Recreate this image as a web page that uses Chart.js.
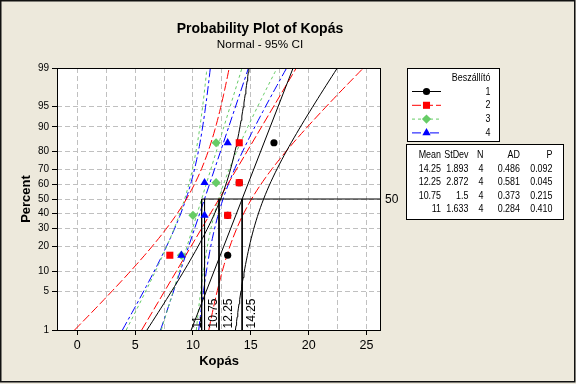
<!DOCTYPE html>
<html><head><meta charset="utf-8">
<script src="https://cdn.jsdelivr.net/npm/chart.js@4/dist/chart.umd.min.js"></script>
<style>html,body{margin:0;padding:0;background:#EDE9DC;}canvas{display:block;}</style>
</head><body>
<canvas id="c" width="576" height="384"></canvas>
<script>
// ---------------- data ----------------
const GROUPS = ['1', '2', '3', '4'];                 // Beszállító
const PLOT_PCT = [15.9, 38.6, 61.4, 84.1];           // plotting positions (percent)
const KOPAS_1 = [13, 13, 14, 17];
const KOPAS_2 = [8, 13, 14, 14];
const KOPAS_3 = [9, 10, 12, 12];
const KOPAS_4 = [9, 11, 11, 13];
const MEAN  = [14.25, 12.25, 10.75, 11];
const STDEV = [1.893, 2.872, 1.5, 1.633];
const N     = [4, 4, 4, 4];
const AD    = [0.486, 0.581, 0.373, 0.284];
const PVAL  = [0.092, 0.045, 0.215, 0.410];
const PCT_TICKS = [1, 5, 10, 20, 30, 40, 50, 60, 70, 80, 90, 95, 99];
const X_TICKS = [0, 5, 10, 15, 20, 25];
const REF_PCT = 50;

const SERIES = [KOPAS_1, KOPAS_2, KOPAS_3, KOPAS_4];

// ---------------- helpers ----------------
function qnorm(p){
  const a=[-3.969683028665376e+01,2.209460984245205e+02,-2.759285104469687e+02,1.383577518672690e+02,-3.066479806614716e+01,2.506628277459239e+00];
  const b=[-5.447609879822406e+01,1.615858368580409e+02,-1.556989798598866e+02,6.680131188771972e+01,-1.328068155288572e+01];
  const c=[-7.784894002430293e-03,-3.223964580411365e-01,-2.400758277161838e+00,-2.549732539343734e+00,4.374664141464968e+00,2.938163982698783e+00];
  const d=[7.784695709041462e-03,3.224671290700398e-01,2.445134137142996e+00,3.754408661907416e+00];
  const pl=0.02425, ph=1-pl; let q,r;
  if(p<pl){q=Math.sqrt(-2*Math.log(p));return (((((c[0]*q+c[1])*q+c[2])*q+c[3])*q+c[4])*q+c[5])/((((d[0]*q+d[1])*q+d[2])*q+d[3])*q+1);}
  if(p>ph){q=Math.sqrt(-2*Math.log(1-p));return -(((((c[0]*q+c[1])*q+c[2])*q+c[3])*q+c[4])*q+c[5])/((((d[0]*q+d[1])*q+d[2])*q+d[3])*q+1);}
  q=p-0.5;r=q*q;
  return (((((a[0]*r+a[1])*r+a[2])*r+a[3])*r+a[4])*r+a[5])*q/(((((b[0]*r+b[1])*r+b[2])*r+b[3])*r+b[4])*r+1);
}
function pnorm(z){
  const t=1/(1+0.2316419*Math.abs(z));
  const y=t*(0.319381530+t*(-0.356563782+t*(1.781477937+t*(-1.821255978+t*1.330274429))));
  const v=1-Math.exp(-z*z/2)/Math.sqrt(2*Math.PI)*y;
  return z>=0?v:1-v;
}

// probability (normal) scale: values in percent, spaced by normal quantile
class ProbitScale extends Chart.Scale {
  static id = 'probit';
  static defaults = {};
  determineDataLimits(){ this.min = this.options.min; this.max = this.options.max; }
  buildTicks(){ return PCT_TICKS.map(v => ({value: v})); }
  configure(){ super.configure(); this._zmin = qnorm(this.min/100); this._zmax = qnorm(this.max/100); }
  getLabelForValue(v){ return String(v); }
  getPixelForValue(v){ const z = qnorm(v/100); return this.getPixelForDecimal((z-this._zmin)/(this._zmax-this._zmin)); }
  getValueForPixel(p){ const d=this.getDecimalForPixel(p); return 100*pnorm(this._zmin+d*(this._zmax-this._zmin)); }
  getPixelForTick(i){ const t=this.ticks; if(i<0||i>t.length-1) return null; return this.getPixelForValue(t[i].value); }
}
Chart.register(ProbitScale);

// ---------------- styling ----------------
const FONT = '"Liberation Sans", Arial, sans-serif';
const BG = '#EDE9DC';
const STYLES = [
  {color:'#000000', dash:[],          point:'circle',   r:3.6},
  {color:'#FF0000', dash:[9,3],       point:'rect',     r:5.0},
  {color:'#66CC66', dash:[3,3],       point:'rectRot',  r:4.6},
  {color:'#0000FF', dash:[9,3,3,3],   point:'triangle', r:4.8},
];
const X_MIN = -1.75, X_MAX = 26.25;
const CI_Z = 1.96, SIGMA_VAR_FACTOR = 0.15; // variance weight of sigma term
const Z_STEPS = 60;
const SQUEEZE = 0.85;   // narrower text like the original UI font

Chart.defaults.font.family = FONT;
Chart.defaults.color = '#000';

// ---------------- datasets ----------------
const datasets = [];
const zLo = qnorm(PCT_TICKS[0]/100), zHi = qnorm(PCT_TICKS[PCT_TICKS.length-1]/100);
GROUPS.forEach((g, gi) => {
  const st = STYLES[gi], m = MEAN[gi], s = STDEV[gi], n = N[gi];
  datasets.push({
    label: g, data: SERIES[gi].map((v,i)=>({x:v, y:PLOT_PCT[i]})),
    showLine:false, pointStyle: st.point, pointRadius: st.r, pointHoverRadius: st.r,
    backgroundColor: st.color, borderColor: st.color, borderWidth: 0, order: 3-gi
  });
  datasets.push({
    data: [{x:m+zLo*s, y:PCT_TICKS[0]}, {x:m+zHi*s, y:PCT_TICKS[PCT_TICKS.length-1]}],
    showLine:true, pointRadius:0, borderColor: st.color, borderWidth:1, borderDash: st.dash, order: 20
  });
  const lo = [], hi = [];
  for(let k=0;k<=Z_STEPS;k++){
    const z = zLo + (zHi-zLo)*k/Z_STEPS;
    const se = s*Math.sqrt(1/n + z*z*SIGMA_VAR_FACTOR);
    const pc = 100*pnorm(z);
    lo.push({x: m+z*s-CI_Z*se, y: pc});
    hi.push({x: m+z*s+CI_Z*se, y: pc});
  }
  [lo, hi].forEach(d => datasets.push({
    data: d, showLine:true, pointRadius:0, borderColor: st.color, borderWidth:1, borderDash: st.dash, order: 20
  }));
});
datasets.push({data:[{x:Math.min(...MEAN), y:REF_PCT},{x:X_MAX, y:REF_PCT}], showLine:true, pointRadius:0, borderColor:'#000', borderWidth:1, order:10});
MEAN.forEach(m => datasets.push({data:[{x:m, y:REF_PCT},{x:m, y:PCT_TICKS[0]}], showLine:true, pointRadius:0, borderColor:'#000', borderWidth:1, order:10}));

// ---------------- drawing of texts / boxes ----------------
const MEAN_LABEL_DX = [12.6, 12.6, 15.2, -3.2];
function txt(ctx, s, x, y){ ctx.fillText(s, x, y, ctx.measureText(s).width*SQUEEZE); }
function marker(ctx, type, x, y, r, color){
  ctx.save(); ctx.fillStyle = color; ctx.beginPath();
  if(type==='circle'){ ctx.arc(x,y,r,0,Math.PI*2); }
  else if(type==='rect'){ const h=r*Math.SQRT1_2; ctx.rect(x-h,y-h,2*h,2*h); }
  else if(type==='rectRot'){ ctx.moveTo(x-r,y); ctx.lineTo(x,y-r); ctx.lineTo(x+r,y); ctx.lineTo(x,y+r); ctx.closePath(); }
  else { ctx.moveTo(x,y-r); ctx.lineTo(x+r*0.866,y+r/2); ctx.lineTo(x-r*0.866,y+r/2); ctx.closePath(); }
  ctx.fill(); ctx.restore();
}
const decor = {
  id:'decor',
  beforeDraw(chart){
    const {ctx, chartArea:a} = chart;
    ctx.save(); ctx.fillStyle = BG; ctx.fillRect(0,0,chart.width,chart.height);
    ctx.fillStyle = '#fff'; ctx.fillRect(a.left,a.top,a.right-a.left,a.bottom-a.top); ctx.restore();
  },
  afterDatasetsDraw(chart){
    const {ctx, chartArea:a, scales:{x, y}} = chart;
    ctx.save();
    ctx.strokeStyle = '#000'; ctx.lineWidth = 1;
    ctx.strokeRect(Math.round(a.left)+0.5, Math.round(a.top)+0.5, Math.round(a.right-a.left)-1, Math.round(a.bottom-a.top));
    ctx.font = '12px ' + FONT; ctx.fillStyle = '#000'; ctx.textAlign = 'left'; ctx.textBaseline = 'alphabetic';
    MEAN.forEach((m,i) => {
      ctx.save(); ctx.translate(x.getPixelForValue(m)+MEAN_LABEL_DX[i], a.bottom-1.5); ctx.rotate(-Math.PI/2);
      ctx.fillText(String(m), 0, 0); ctx.restore();
    });
    ctx.font = '12px ' + FONT;
    ctx.fillText(String(REF_PCT), a.right+4, y.getPixelForValue(REF_PCT)+4);
    ctx.restore();
  },
  afterDraw(chart){
    const {ctx, chartArea:a} = chart;
    ctx.save(); ctx.fillStyle = '#000';
    ctx.textAlign = 'center'; ctx.textBaseline = 'alphabetic';
    ctx.font = 'bold 14px ' + FONT; ctx.fillText('Probability Plot of Kopás', 260, 33);
    ctx.font = '11.7px ' + FONT; ctx.fillText('Normal - 95% CI', 260, 47.5);
    ctx.font = 'bold 13px ' + FONT; ctx.fillText('Kopás', (a.left+a.right)/2, 365);
    ctx.save(); ctx.translate(30, (a.top+a.bottom)/2); ctx.rotate(-Math.PI/2); ctx.fillText('Percent', 0, 0); ctx.restore();

    // legend box
    ctx.fillStyle = '#fff'; ctx.fillRect(407.5, 68.5, 92, 73);
    ctx.strokeStyle = '#000'; ctx.lineWidth = 1; ctx.strokeRect(407.5, 68.5, 92, 73);
    ctx.fillStyle = '#000'; ctx.font = '10.5px ' + FONT; ctx.textAlign = 'right';
    txt(ctx, 'Beszállító', 490.5, 80.5);
    GROUPS.forEach((g,i) => {
      const yy = 91 + i*13.8, st = STYLES[i];
      ctx.save(); ctx.strokeStyle = st.color; ctx.lineWidth = 1; ctx.setLineDash(st.dash);
      ctx.beginPath(); ctx.moveTo(412, yy+0.5); ctx.lineTo(441, yy+0.5); ctx.stroke(); ctx.restore();
      marker(ctx, st.point, 426.5, yy+0.5, st.r, st.color);
      ctx.fillStyle = '#000'; txt(ctx, g, 490.5, yy+3.5);
    });

    // statistics table
    ctx.fillStyle = '#fff'; ctx.fillRect(406.5, 144.5, 157, 75);
    ctx.strokeRect(406.5, 144.5, 157, 75);
    ctx.fillStyle = '#000';
    const cols = [441, 468.5, 483.5, 520, 552.5];
    const head = ['Mean', 'StDev', 'N', 'AD', 'P'];
    head.forEach((h,j) => txt(ctx, h, cols[j], 158.3));
    GROUPS.forEach((g,i) => {
      const yy = 172 + i*13.4;
      const row = [String(MEAN[i]), String(STDEV[i]), String(N[i]), AD[i].toFixed(3), PVAL[i].toFixed(3)];
      row.forEach((t,j) => txt(ctx, t, cols[j], yy));
    });
    ctx.strokeStyle = '#111'; ctx.lineWidth = 1.5; ctx.strokeRect(0.75, 0.75, 574, 381);
    ctx.restore();
  }
};

new Chart(document.getElementById('c'), {
  type: 'scatter',
  data: { datasets },
  options: {
    responsive:false, animation:false, devicePixelRatio:1,
    layout: { padding: {left:0, top:68, right:195, bottom:34} },
    plugins: { legend:{display:false}, tooltip:{enabled:false}, title:{display:false} },
    scales: {
      x: {
        type:'linear', min:X_MIN, max:X_MAX,
        afterBuildTicks: s => {
          const t = [];
          X_TICKS.forEach((v,i) => { t.push({value:v}); if(i<X_TICKS.length-1) t.push({value:(v+X_TICKS[i+1])/2}); });
          s.ticks = t;
        },
        afterFit: s => { s.height = 20; },
        ticks: { autoSkip:false, maxRotation:0, padding:3, font:{size:12.5},
                 callback: v => X_TICKS.includes(v) ? String(v) : '' },
        grid: { color:'#C0C0C0', lineWidth:1, tickLength:5,
                tickColor: c => X_TICKS.includes(c.tick && c.tick.value) ? '#000' : 'rgba(0,0,0,0)' },
        border: { display:false, dash:[5,3] }
      },
      y: {
        type:'probit', position:'left', min:PCT_TICKS[0], max:PCT_TICKS[PCT_TICKS.length-1],
        afterFit: s => { s.width = 57; },
        ticks: { padding:3, font:{size:10}, callback: v => String(v) },
        grid: { lineWidth:1, tickLength:5, tickColor:'#000',
                color: c => (c.tick && (c.tick.value===PCT_TICKS[0] || c.tick.value===PCT_TICKS[PCT_TICKS.length-1])) ? 'rgba(0,0,0,0)' : '#C0C0C0' },
        border: { display:false, dash:[5,3] }
      }
    }
  },
  plugins: [decor]
});
</script>
</body></html>
